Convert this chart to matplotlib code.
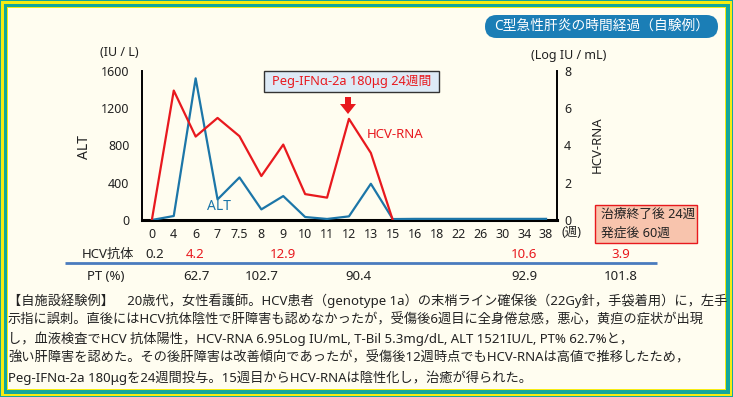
import numpy as np
import matplotlib
matplotlib.use("Agg")
import matplotlib.pyplot as plt
from matplotlib.patches import Rectangle, FancyBboxPatch, Polygon

plt.rcParams['font.family'] = ['Noto Sans', 'Noto Sans CJK JP', 'DejaVu Sans']

# ---------------- data ----------------
weeks = ['0', '4', '6', '7', '7.5', '8', '9', '10', '11', '12', '13', '15',
         '16', '18', '22', '26', '30', '34', '38']
alt = [0, 43, 1521, 221, 457, 114, 257, 32, 11, 39, 389, 10,
       12, 12, 12, 12, 12, 12, 12]
hcv_rna = [0, 6.95, 4.48, 5.48, 4.5, 2.36, 4.05, 1.39, 1.2, 5.43, 3.6, 0,
           np.nan, np.nan, np.nan, np.nan, np.nan, np.nan, np.nan]
alt_ticks = [0, 400, 800, 1200, 1600]
rna_ticks = [0, 2, 4, 6, 8]

ab_values = ['0.2', '4.2', '12.9', '10.6', '3.9']
pt_values = ['62.7', '102.7', '90.4', '92.9', '101.8']

title = 'C型急性肝炎の時間経過（自験例）'
peg_label = 'Peg-IFNα-2a 180μg 24週間'
box_lines = ['治療終了後 24週', '発症後 60週']
paragraph = [
    '【自施設経験例】　20歳代，女性看護師。HCV患者（genotype 1a）の末梢ライン確保後（22Gy針，手袋着用）に，左手',
    '示指に誤刺。直後にはHCV抗体陰性で肝障害も認めなかったが，受傷後6週目に全身倦怠感，悪心，黄疸の症状が出現',
    'し，血液検査でHCV 抗体陽性，HCV-RNA 6.95Log IU/mL, T-Bil 5.3mg/dL, ALT 1521IU/L, PT% 62.7%と，',
    '強い肝障害を認めた。その後肝障害は改善傾向であったが，受傷後12週時点でもHCV-RNAは高値で推移したため，',
    'Peg-IFNα-2a 180μgを24週間投与。15週目からHCV-RNAは陰性化し，治癒が得られた。',
]

# ---------------- styles ----------------
W, H = 733, 397
TEAL = '#14A79B'
YELLOW = '#F6EC12'
CREAM = '#FFFDF0'
RED = '#E8191E'
BLUE = '#1C76A8'
PILL = '#1B7EB6'
INK = '#222222'

fig = plt.figure(figsize=(W / 100, H / 100), dpi=100)
fig.patch.set_facecolor(CREAM)

# overlay axes in pixel coords (origin top-left)
ov = fig.add_axes([0, 0, 1, 1], zorder=0)
ov.set_xlim(0, W)
ov.set_ylim(H, 0)
ov.axis('off')

# border frame
for inset, col in [(0, TEAL), (1, YELLOW), (3.5, TEAL), (7, YELLOW), (8, CREAM)]:
    ov.add_patch(Rectangle((inset, inset), W - 2 * inset, H - 2 * inset,
                           facecolor=col, edgecolor='none', zorder=0))

# title pill
ov.add_patch(FancyBboxPatch((485, 15), 233, 23,
                            boxstyle='round,pad=0,rounding_size=11.5',
                            facecolor=PILL, edgecolor='none', zorder=2))
ov.text(601.5, 26.5, title, color='white', fontsize=9.9,
        ha='center', va='center', zorder=3)

# Peg box and arrow
ov.add_patch(Rectangle((264, 71), 175, 21, facecolor='#DDEAF6',
                       edgecolor='#333333', lw=1, zorder=2))
ov.text(351.5, 81.5, peg_label, color=RED, fontsize=9.2,
        ha='center', va='center', zorder=3)
ov.add_patch(Polygon([(345, 97), (351, 97), (351, 104), (356, 104),
                      (348, 114), (340, 104), (345, 104)],
                     closed=True, facecolor=RED, edgecolor='none', zorder=3))

# right info box
ov.add_patch(Rectangle((595, 205), 102, 38, facecolor='#F8C4AD',
                       edgecolor=RED, lw=1, zorder=2))
ov.text(601, 214.5, box_lines[0], fontsize=9.2, ha='left', va='center',
        color=INK, zorder=3)
ov.text(601, 233, box_lines[1], fontsize=9.2, ha='left', va='center',
        color=INK, zorder=3)

# axis unit labels
ov.text(119, 53, '(IU / L)', fontsize=9, ha='center', va='center', color=INK)
ov.text(569, 55, '(Log IU / mL)', fontsize=9, ha='center', va='center', color=INK)
ov.text(85, 147, 'ALT', fontsize=10, ha='center', va='center', rotation=90, color=INK)
ov.text(597, 145, 'HCV-RNA', fontsize=9.5, ha='center', va='center', rotation=90, color=INK)
ov.text(571, 233, '(週)', fontsize=9, ha='center', va='center', color=INK)
ov.text(367, 134, 'HCV-RNA', fontsize=9.5, ha='left', va='center', color=RED)
ov.text(207, 207, 'ALT', fontsize=10, ha='left', va='center', color=BLUE)

# table rows
ab_x = [155, 195, 283, 524, 621]
ab_colors = [INK, RED, RED, RED, RED]
pt_x = [196, 262, 358, 524, 621]
ov.text(108, 254, 'HCV抗体', fontsize=9.5, ha='center', va='center', color=INK)
for v, x, c in zip(ab_values, ab_x, ab_colors):
    ov.text(x, 254, v, fontsize=9.5, ha='center', va='center', color=c)
ov.plot([65, 657], [263, 263], color='#4A7BBE', lw=2, solid_capstyle='butt')
ov.text(106, 277, 'PT (%)', fontsize=9.5, ha='center', va='center', color=INK)
for v, x in zip(pt_values, pt_x):
    ov.text(x, 277, v, fontsize=9.5, ha='center', va='center', color=INK)

# paragraph
for i, line in enumerate(paragraph):
    ov.text(8, 300.5 + i * 19.2, line, fontsize=9.5, ha='left', va='center', color=INK)

# ---------------- main chart ----------------
ax = fig.add_axes([142 / W, 1 - 220 / H, 415 / W, 149 / H], zorder=1)
ax.patch.set_alpha(0)
x = np.arange(len(weeks))
ax.plot(x, alt, color=BLUE, lw=1.6, zorder=3)
ax.set_xlim(-0.45, 18.5)
ax.set_ylim(0, 1600)
ax.set_xticks(x)
ax.set_xticklabels(weeks)
ax.set_yticks(alt_ticks)
ax.tick_params(axis='both', length=0, labelsize=9, colors=INK)
ax.tick_params(axis='x', pad=6)
ax.tick_params(axis='y', pad=9)
ax.spines['top'].set_visible(False)
ax.spines['right'].set_visible(False)
ax.spines['left'].set_linewidth(1.4)
ax.spines['bottom'].set_linewidth(2.2)

ax2 = ax.twinx()
ax2.plot(x, hcv_rna, color=RED, lw=1.6, zorder=3)
ax2.set_ylim(0, 8)
ax2.set_yticks(rna_ticks)
ax2.tick_params(axis='y', length=0, labelsize=9, pad=5, colors=INK)
for s in ['top', 'left', 'bottom']:
    ax2.spines[s].set_visible(False)
ax2.spines['right'].set_linewidth(1.4)

fig.savefig('out.png', dpi=100, facecolor=fig.get_facecolor())
